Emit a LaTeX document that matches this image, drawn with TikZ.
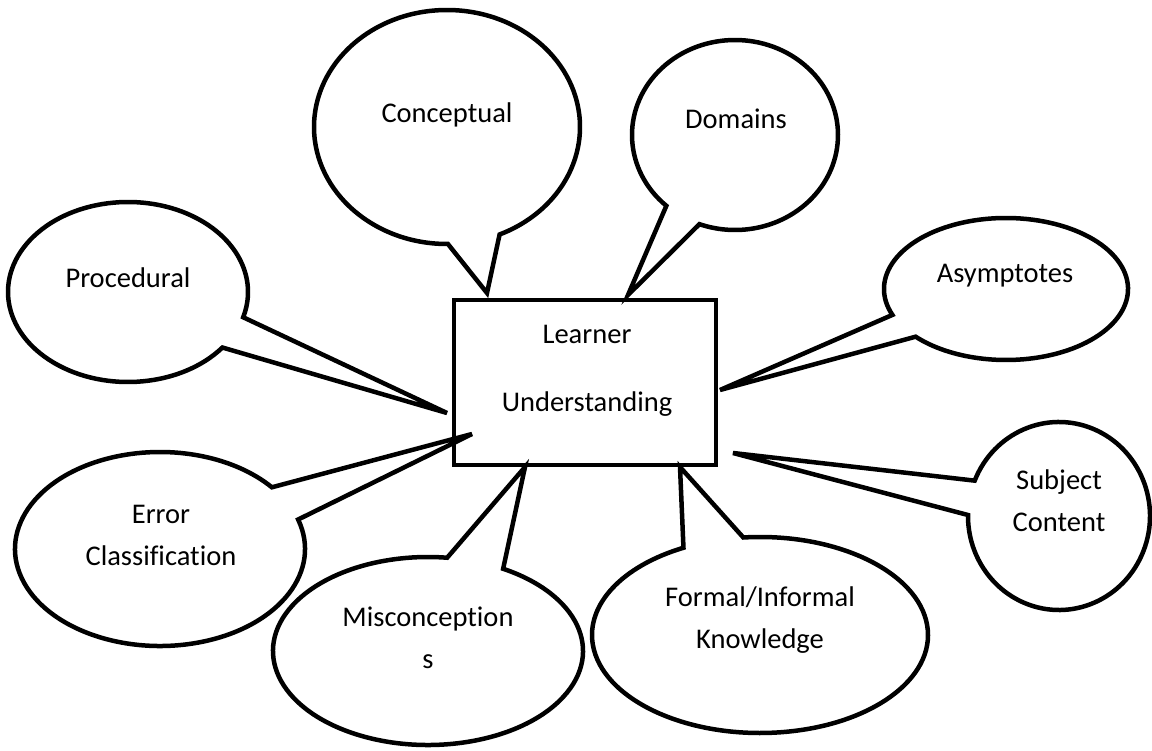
\documentclass[tikz,border=0pt]{standalone}
\usepackage{fontspec}
\setmainfont[Ligatures=NoCommon]{Carlito}
\tikzset{
  bubble/.style={draw=black, fill=white, line width=4.5pt},
  box/.style={draw=black, line width=4.5pt, minimum width=262pt, minimum height=165pt, inner sep=0pt},
  txt/.style={align=center, font=\fontsize{28.5}{42}\selectfont, anchor=base, inner sep=0pt}
}
\begin{document}
\begin{tikzpicture}[x=1pt, y=-1pt]
\useasboundingbox (0,0) rectangle (1152,751);
% where the bubbles point to
\coordinate (t-concept) at (487,293);
\coordinate (t-domain) at (628,295);
\coordinate (t-proc) at (447,413);
\coordinate (t-asym) at (720,390);
\coordinate (t-error) at (472,434);
\coordinate (t-miscon) at (525,467);
\coordinate (t-formal) at (680,467);
\coordinate (t-subject) at (733,453);
% speech bubbles: centre / radii / arc from-to / tip
\foreach \cx/\cy/\rx/\ry/\ta/\tb/\tip in {
  447/127/133/117/89.6/426.7/t-concept,
  735/135/103/95/131.8/470.2/t-domain,
  128/292/120/90/38.1/376.3/t-proc,
  1006/289/122/71/158.6/497.8/t-asym,
  160/549/145/97/342.3/680.5/t-error,
  428/651/155/94/299.0/637.1/t-miscon,
  760/635/168/98/264.3/602.9/t-formal,
  1059/516/91/94/202.1/540.6/t-subject}
  \draw[bubble] (\cx,\cy) ++({\rx*cos(\ta)},{\ry*sin(\ta)})
    arc[start angle=\ta, end angle=\tb, x radius=\rx, y radius=\ry]
    -- (\tip) -- cycle;
% centre (base = last line)
\node[box] (learner) at (585,382.5) {};
\node[txt] (learner-txt) at (587,411) {Learner\\[26pt]Understanding};
% bubble texts
\node[txt] (concept) at (447,123) {Conceptual};
\node[txt] (domain) at (736,129) {Domains};
\node[txt] (proc) at (128,288) {Procedural};
\node[txt] (asym) at (1005,283) {Asymptotes};
\node[txt] (error) at (161,565) {Error\\Classification};
\node[txt] (miscon) at (428,668) {Misconception\\s};
\node[txt] (formal) at (760,648) {Formal/Informal\\Knowledge};
\node[txt] (subject) at (1059,531) {Subject\\Content};
\end{tikzpicture}
\end{document}
